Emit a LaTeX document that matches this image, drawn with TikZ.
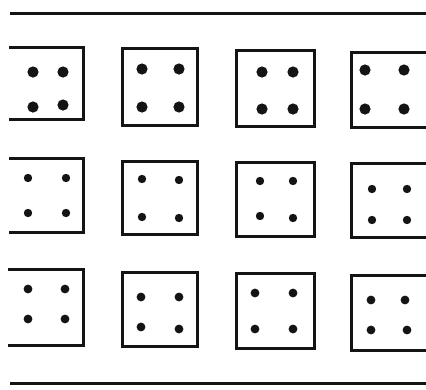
\documentclass[tikz,border=0pt]{standalone}
\usepackage{tikz}
\definecolor{InkGray}{HTML}{141414}
\begin{document}
\begin{tikzpicture}[x=1pt,y=-1pt,line width=3pt,InkGray,
  bigdot/.style={fill=InkGray},
  frame/.style={draw=InkGray,line join=miter}]
 \useasboundingbox (0,0) rectangle (426,389);
 % top and bottom rules
 \draw (10,13)--(426,13);
 \draw (10,383)--(426,383);
 % row 1 (large dots)
 \draw[frame] (9,47)-|(83,119)--(9,119);
 \draw[frame] (122,48) rectangle (197,125);
 \draw[frame] (236,50) rectangle (314,126);
 \draw[frame] (426,52)-|(351,127)--(426,127);
 \foreach \x/\y in {33/72,63/72,33/107,63/105,
                    142/69,179/69,142/107,179/107,
                    262/72,293/72,262/109,293/109,
                    365/70,404/70,365/109,404/109}{
   \fill[bigdot] (\x,\y) circle (5.6);}
 % row 2 (small dots)
 \draw[frame] (9,158)-|(83,232)--(9,232);
 \draw[frame] (122,161) rectangle (197,234);
 \draw[frame] (236,162) rectangle (314,236);
 \draw[frame] (426,163)-|(351,237)--(426,237);
 \foreach \x/\y in {28/178,66/178,28/213,66/213,
                    142/179,179/180,142/217,179/218,
                    260/181,293/181,260/216,293/218,
                    372/189,407/189,372/220,407/220}{
   \fill[bigdot] (\x,\y) circle (4.2);}
 % row 3 (small dots)
 \draw[frame] (8,269)-|(83,345)--(8,345);
 \draw[frame] (122,272) rectangle (197,346);
 \draw[frame] (236,273) rectangle (314,348);
 \draw[frame] (426,275)-|(351,350)--(426,350);
 \foreach \x/\y in {28/289,65/289,28/319,65/319,
                    141/297,179/297,141/327,179/329,
                    255/293,293/293,255/329,293/329,
                    371/300,405/300,371/330,407/330}{
   \fill[bigdot] (\x,\y) circle (4.4);}
\end{tikzpicture}
\end{document}
